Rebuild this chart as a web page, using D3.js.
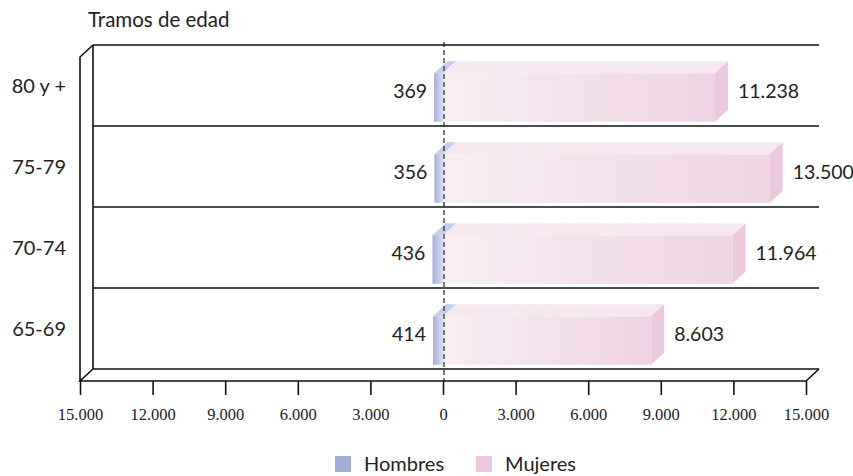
<!DOCTYPE html>
<html><head><meta charset="utf-8">
<script src="https://cdn.jsdelivr.net/npm/d3@7"></script>
<style>body{margin:0;background:#fff}svg{display:block}</style>
</head><body>
<script>
const categories = ["80 y +", "75-79", "70-74", "65-69"];
const hombres = [369, 356, 436, 414];
const mujeres = [11238, 13500, 11964, 8603];
const tickValues = [-15000, -12000, -9000, -6000, -3000, 0, 3000, 6000, 9000, 12000, 15000];
const seriesNames = ["Hombres", "Mujeres"];
const title = "Tramos de edad";

const W = 853, H = 476;
const DX = 13, DY = -12;
const FONT = "Lato, 'Open Sans', sans-serif";
const svg = d3.select("body").append("svg").attr("width", W).attr("height", H);
const fmt = v => d3.format(",")(Math.abs(v)).replace(/,/g, ".");

const x = d3.scaleLinear().domain([-15000, 15000]).range([80, 806]);
const floorY = 381;
const y = d3.scaleBand().domain(categories).range([45, 369]).paddingInner(0.4).paddingOuter(0.2);
const step = y.step();
const bandTop = 45;

const defs = svg.append("defs");
const gp = defs.append("linearGradient").attr("id", "gPink");
gp.append("stop").attr("offset", "0%").attr("stop-color", "#f7eef3");
gp.append("stop").attr("offset", "100%").attr("stop-color", "#efd4e4");
const gb = defs.append("linearGradient").attr("id", "gBlue");
gb.append("stop").attr("offset", "0%").attr("stop-color", "#a6afda");
gb.append("stop").attr("offset", "100%").attr("stop-color", "#d9ddf1");
const pat = defs.append("pattern").attr("id", "hatch").attr("patternUnits", "userSpaceOnUse")
  .attr("width", 3).attr("height", 3).attr("patternTransform", "rotate(45)");
pat.append("rect").attr("width", 3).attr("height", 3).attr("fill", "#f5e6ee");
pat.append("line").attr("x1", 0).attr("y1", 0).attr("x2", 0).attr("y2", 3).attr("stroke", "#fbf3f7").attr("stroke-width", 1);

// frame
const frame = svg.append("g").attr("fill", "none").attr("stroke", "#111").attr("stroke-width", 1.6);
const lines = d3.range(categories.length + 1).map(i => bandTop + i * step);
frame.selectAll("line.grid").data(lines).join("line")
  .attr("x1", x(-15000) + DX).attr("x2", x(15000) + DX).attr("y1", d => d).attr("y2", d => d);
frame.append("line").attr("x1", x(-15000) + DX).attr("x2", x(-15000) + DX).attr("y1", bandTop).attr("y2", floorY + DY);
frame.append("path").attr("d", `M${x(-15000)},${floorY}V${bandTop - DY}L${x(-15000) + DX},${bandTop}`);
frame.append("path").attr("d", `M${x(-15000) + DX},${floorY + DY}L${x(-15000)},${floorY}H${x(15000)}L${x(15000) + DX},${floorY + DY}`);

// ticks
const ax = svg.append("g").attr("transform", `translate(0,${floorY})`)
  .call(d3.axisBottom(x).tickValues(tickValues).tickSize(14).tickFormat(fmt));
ax.select(".domain").remove();
ax.selectAll(".tick line").attr("stroke", "#111").attr("stroke-width", 1.6);
ax.selectAll(".tick text").attr("y", 33).attr("dy", "0.35em")
  .attr("font-family", "Liberation Serif").attr("font-size", 16.5).attr("fill", "#222");

// bars
const data = categories.map((c, i) => ({c, h: hombres[i], m: mujeres[i]}));
function box(g, x0, x1, yt, hgt, front, top, side) {
  g.append("path").attr("d", `M${x0},${yt - DY}H${x1}V${yt - DY + hgt}H${x0}Z`).attr("fill", front);
  g.append("path").attr("d", `M${x0},${yt - DY}L${x0 + DX},${yt}H${x1 + DX}L${x1},${yt - DY}Z`).attr("fill", top);
  if (side) g.append("path").attr("d", `M${x1},${yt - DY}L${x1 + DX},${yt}V${yt + hgt}L${x1},${yt - DY + hgt}Z`).attr("fill", side);
}
const bars = svg.append("g");
data.forEach(d => {
  const g = bars.append("g");
  const yt = y(d.c), hgt = y.bandwidth();
  box(g, x(0), x(d.m), yt, hgt, "url(#gPink)", "url(#hatch)", "#ebc9dd");
  box(g, x(-d.h), x(0), yt, hgt, "url(#gBlue)", "#c7ceeb", null);
});

// zero dashed line
svg.append("line").attr("x1", x(0) + 1).attr("x2", x(0) + 1).attr("y1", 42).attr("y2", floorY)
  .attr("stroke", "#222").attr("stroke-width", 1.2).attr("stroke-dasharray", "5,3");

// labels
const lab = svg.append("g").attr("font-family", FONT).attr("font-size", 19.5).attr("fill", "#222");
data.forEach(d => {
  const cy = y(d.c) + y.bandwidth() / 2 + 6;
  lab.append("text").attr("x", x(-d.h) - 7).attr("y", cy).attr("dy", "0.35em").attr("text-anchor", "end").text(fmt(d.h));
  lab.append("text").attr("x", x(d.m) + DX + 10).attr("y", cy).attr("dy", "0.35em").text(fmt(d.m));
  lab.append("text").attr("x", 66).attr("y", y(d.c) + y.bandwidth() / 2).attr("dy", "0.35em").attr("text-anchor", "end").attr("font-size", 20).text(d.c);
});

svg.append("text").attr("x", 88).attr("y", 20).attr("dy", "0.35em")
  .attr("font-family", FONT).attr("font-size", 20.5).attr("fill", "#222").text(title);

// legend
const leg = svg.append("g").attr("font-family", FONT).attr("font-size", 20).attr("fill", "#222");
const legColors = ["#a3aed8", "#ecc8de"];
const legX = [335, 476];
seriesNames.forEach((s, i) => {
  leg.append("rect").attr("x", legX[i]).attr("y", 456).attr("width", 16).attr("height", 16).attr("fill", legColors[i]);
  leg.append("text").attr("x", legX[i] + 29).attr("y", 464).attr("dy", "0.35em").text(s);
});
</script>
</body></html>
